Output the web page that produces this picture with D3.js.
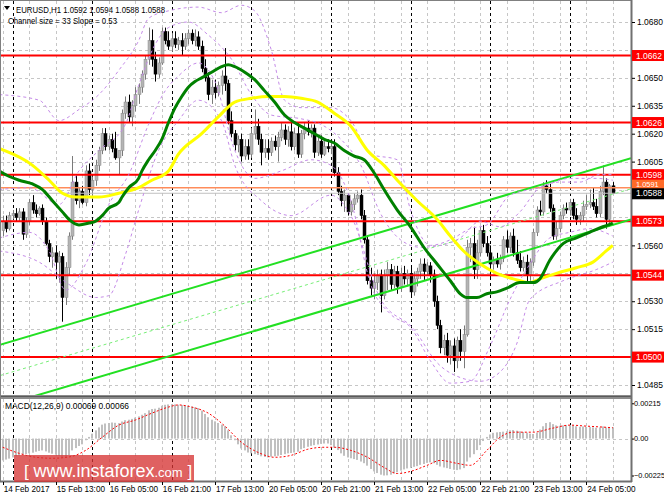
<!DOCTYPE html>
<html><head><meta charset="utf-8">
<script src="https://cdn.jsdelivr.net/npm/d3@7/dist/d3.min.js"></script>
<style>body{margin:0;background:#fff}svg{display:block}text{font-family:"Liberation Sans",Arial,sans-serif}</style>
</head><body>
<svg id="c" width="664" height="498"></svg>
<script>
// ---------- DATA ----------
const tickLabels = ["14 Feb 2017","15 Feb 13:00","16 Feb 05:00","16 Feb 21:00","17 Feb 13:00","20 Feb 05:00","20 Feb 21:00","21 Feb 13:00","22 Feb 05:00","22 Feb 21:00","23 Feb 13:00","24 Feb 05:00"];
const tickBars = [0,16,32,48,64,80,96,112,128,144,160,176];
const dayBars = [3,27,51,75,99,123,147,171];
const priceTicks = [1.0485,1.0500,1.0515,1.0530,1.0545,1.0560,1.0575,1.0590,1.0605,1.0620,1.0635,1.0650,1.0665,1.0680];
const levels = [1.0662,1.0626,1.0598,1.0573,1.0544,1.0500];
const askPrice = 1.0591, bidPrice = 1.0588;
const macdTicks = [0.00215, 0.00, -0.00225];

const open = [1.0568,1.0573,1.0569,1.0576,1.0577,1.0575,1.0578,1.0566,1.0573,1.0583,
1.0579,1.0577,1.0580,1.0573,1.0561,1.0554,1.0556,1.0551,1.0554,1.0532,
1.0548,1.0565,1.0594,1.0584,1.0589,1.0583,1.0600,1.0590,1.0595,1.0603,
1.0611,1.0620,1.0613,1.0617,1.0612,1.0607,1.0611,1.0631,1.0637,1.0629,
1.0635,1.0641,1.0645,1.0652,1.0660,1.0670,1.0660,1.0652,1.0658,1.0675,
1.0670,1.0667,1.0671,1.0668,1.0670,1.0667,1.0671,1.0674,1.0670,1.0672,
1.0667,1.0655,1.0650,1.0641,1.0645,1.0642,1.0646,1.0651,1.0647,1.0627,
1.0620,1.0614,1.0617,1.0608,1.0613,1.0609,1.0620,1.0624,1.0617,1.0610,
1.0612,1.0610,1.0616,1.0613,1.0618,1.0622,1.0617,1.0621,1.0613,1.0620,
1.0609,1.0620,1.0623,1.0621,1.0623,1.0610,1.0616,1.0609,1.0613,1.0612,
1.0613,1.0599,1.0589,1.0584,1.0587,1.0578,1.0582,1.0585,1.0587,1.0576,
1.0563,1.0541,1.0537,1.0540,1.0544,1.0533,1.0544,1.0547,1.0539,1.0546,
1.0538,1.0545,1.0542,1.0545,1.0535,1.0542,1.0546,1.0550,1.0546,1.0549,
1.0544,1.0530,1.0517,1.0505,1.0509,1.0501,1.0506,1.0498,1.0509,1.0503,
1.0512,1.0559,1.0561,1.0547,1.0556,1.0568,1.0561,1.0556,1.0550,1.0552,
1.0550,1.0553,1.0563,1.0559,1.0565,1.0556,1.0552,1.0548,1.0551,1.0544,
1.0551,1.0567,1.0579,1.0578,1.0592,1.0590,1.0580,1.0565,1.0569,1.0576,
1.0580,1.0579,1.0583,1.0576,1.0574,1.0576,1.0581,1.0582,1.0583,1.0581,
1.0577,1.0589,1.0594,1.0574,1.0592];
const high = [1.0576,1.0576,1.0578,1.0579,1.0580,1.0580,1.0580,1.0575,1.0585,1.0587,
1.0582,1.0581,1.0582,1.0575,1.0563,1.0559,1.0560,1.0557,1.0556,1.0551,
1.0567,1.0608,1.0598,1.0591,1.0592,1.0603,1.0604,1.0597,1.0606,1.0613,
1.0623,1.0623,1.0619,1.0620,1.0621,1.0611,1.0633,1.0640,1.0641,1.0638,
1.0645,1.0647,1.0654,1.0662,1.0677,1.0676,1.0664,1.0661,1.0677,1.0677,
1.0675,1.0674,1.0675,1.0672,1.0674,1.0674,1.0676,1.0676,1.0676,1.0675,
1.0670,1.0660,1.0653,1.0649,1.0649,1.0648,1.0654,1.0666,1.0649,1.0632,
1.0622,1.0619,1.0620,1.0617,1.0617,1.0623,1.0633,1.0628,1.0620,1.0617,
1.0617,1.0618,1.0619,1.0621,1.0626,1.0625,1.0624,1.0627,1.0623,1.0626,
1.0622,1.0626,1.0627,1.0625,1.0625,1.0618,1.0619,1.0616,1.0617,1.0616,
1.0617,1.0602,1.0592,1.0590,1.0588,1.0584,1.0588,1.0589,1.0590,1.0579,
1.0565,1.0548,1.0545,1.0547,1.0547,1.0547,1.0551,1.0550,1.0549,1.0549,
1.0548,1.0549,1.0547,1.0548,1.0546,1.0548,1.0553,1.0553,1.0551,1.0551,
1.0547,1.0533,1.0520,1.0512,1.0513,1.0509,1.0510,1.0511,1.0515,1.0517,
1.0563,1.0564,1.0570,1.0563,1.0570,1.0571,1.0565,1.0560,1.0554,1.0556,
1.0555,1.0565,1.0568,1.0567,1.0569,1.0563,1.0557,1.0554,1.0555,1.0553,
1.0569,1.0581,1.0584,1.0594,1.0595,1.0593,1.0582,1.0573,1.0578,1.0582,
1.0583,1.0585,1.0585,1.0580,1.0578,1.0584,1.0587,1.0590,1.0591,1.0585,
1.0592,1.0603,1.0596,1.0593,1.0594];
const low = [1.0565,1.0567,1.0568,1.0574,1.0573,1.0573,1.0563,1.0564,1.0571,1.0577,
1.0575,1.0576,1.0571,1.0560,1.0551,1.0548,1.0542,1.0540,1.0519,1.0528,
1.0544,1.0563,1.0582,1.0580,1.0582,1.0581,1.0587,1.0585,1.0592,1.0600,
1.0609,1.0611,1.0611,1.0610,1.0606,1.0598,1.0608,1.0628,1.0626,1.0624,
1.0632,1.0636,1.0642,1.0649,1.0657,1.0656,1.0648,1.0650,1.0657,1.0668,
1.0665,1.0664,1.0666,1.0665,1.0662,1.0665,1.0668,1.0668,1.0667,1.0665,
1.0653,1.0648,1.0638,1.0636,1.0639,1.0640,1.0641,1.0643,1.0625,1.0618,
1.0611,1.0610,1.0605,1.0606,1.0606,1.0607,1.0617,1.0614,1.0603,1.0607,
1.0606,1.0608,1.0611,1.0605,1.0616,1.0614,1.0613,1.0611,1.0611,1.0607,
1.0607,1.0617,1.0619,1.0618,1.0607,1.0608,1.0607,1.0608,1.0610,1.0609,
1.0597,1.0587,1.0581,1.0578,1.0576,1.0576,1.0579,1.0583,1.0574,1.0561,
1.0539,1.0533,1.0531,1.0536,1.0524,1.0531,1.0536,1.0536,1.0537,1.0534,
1.0535,1.0539,1.0538,1.0532,1.0533,1.0538,1.0542,1.0541,1.0544,1.0540,
1.0527,1.0515,1.0502,1.0501,1.0497,1.0496,1.0492,1.0494,1.0498,1.0494,
1.0511,1.0551,1.0542,1.0542,1.0554,1.0559,1.0554,1.0542,1.0547,1.0548,
1.0547,1.0551,1.0556,1.0556,1.0554,1.0550,1.0546,1.0546,1.0540,1.0541,
1.0549,1.0565,1.0576,1.0576,1.0588,1.0578,1.0563,1.0563,1.0567,1.0574,
1.0577,1.0576,1.0574,1.0571,1.0571,1.0573,1.0579,1.0580,1.0579,1.0575,
1.0575,1.0587,1.0569,1.0570,1.0588];
const close = [1.0573,1.0569,1.0576,1.0577,1.0575,1.0578,1.0566,1.0573,1.0583,1.0579,
1.0577,1.0580,1.0573,1.0561,1.0554,1.0556,1.0551,1.0554,1.0532,1.0548,
1.0565,1.0594,1.0584,1.0589,1.0583,1.0600,1.0590,1.0595,1.0603,1.0611,
1.0620,1.0613,1.0617,1.0612,1.0607,1.0611,1.0631,1.0637,1.0629,1.0635,
1.0641,1.0645,1.0652,1.0660,1.0670,1.0660,1.0652,1.0658,1.0675,1.0670,
1.0667,1.0671,1.0668,1.0670,1.0667,1.0671,1.0674,1.0670,1.0672,1.0667,
1.0655,1.0650,1.0641,1.0645,1.0642,1.0646,1.0651,1.0647,1.0627,1.0620,
1.0614,1.0617,1.0608,1.0613,1.0609,1.0620,1.0624,1.0617,1.0610,1.0612,
1.0610,1.0616,1.0613,1.0618,1.0622,1.0617,1.0621,1.0613,1.0620,1.0609,
1.0620,1.0623,1.0621,1.0623,1.0610,1.0616,1.0609,1.0613,1.0612,1.0613,
1.0599,1.0589,1.0584,1.0587,1.0578,1.0582,1.0585,1.0587,1.0576,1.0563,
1.0541,1.0537,1.0540,1.0544,1.0533,1.0544,1.0547,1.0539,1.0546,1.0538,
1.0545,1.0542,1.0545,1.0535,1.0542,1.0546,1.0550,1.0546,1.0549,1.0544,
1.0530,1.0517,1.0505,1.0509,1.0501,1.0506,1.0498,1.0509,1.0503,1.0512,
1.0559,1.0561,1.0547,1.0556,1.0568,1.0561,1.0556,1.0550,1.0552,1.0550,
1.0553,1.0563,1.0559,1.0565,1.0556,1.0552,1.0548,1.0551,1.0544,1.0551,
1.0567,1.0579,1.0578,1.0592,1.0590,1.0580,1.0565,1.0569,1.0576,1.0580,
1.0579,1.0583,1.0576,1.0574,1.0576,1.0581,1.0582,1.0583,1.0581,1.0577,
1.0589,1.0594,1.0574,1.0592,1.0588];

// moving averages: [bar, price]
const maGreen = [[-1,1.0600],[2,1.0597],[5,1.0595],[9,1.0593],[12,1.0590],[15,1.0584],[18,1.0578],[20,1.0574],[23,1.0571],[26,1.0572],[28,1.0573],[30,1.0576],[32,1.0580],[35,1.0583],[36,1.0586],[38,1.0591],[41,1.0596],[42,1.0600],[44,1.0606],[46,1.0611],[48,1.0617],[50,1.0626],[52,1.0634],[54,1.0640],[56,1.0645],[58,1.0648],[60,1.0650],[63,1.0653],[66,1.0656],[68,1.0657],[70,1.0656],[73,1.0653],[76,1.0649],[79,1.0643],[82,1.0637],[85,1.0630],[88,1.0626],[91,1.0623],[94,1.0620],[97,1.0617],[100,1.0615],[103,1.0611],[106,1.0608],[109,1.0606],[112,1.0599],[115,1.0590],[119,1.0579],[123,1.0570],[127,1.0559],[131,1.0550],[135,1.0541],[138,1.0534],[140,1.0532],[143,1.0532],[146,1.0534],[149,1.0535],[152,1.0537],[156,1.0540],[160,1.0540],[162,1.0542],[165,1.0552],[169,1.0561],[173,1.0564],[177,1.0567],[181,1.0570],[184,1.0572]];
const maYellow = [[-1,1.0612],[9,1.0603],[14,1.0595],[18,1.0588],[22,1.0586],[29,1.0586],[35,1.0588],[41,1.0591],[45,1.0595],[50,1.0600],[53,1.0609],[60,1.0620],[65,1.0629],[70,1.0637],[75,1.0639],[80,1.0640],[85,1.0640],[90,1.0639],[95,1.0637],[100,1.0631],[105,1.0624],[110,1.0611],[115,1.0603],[119,1.0595],[125,1.0584],[131,1.0574],[135,1.0565],[139,1.0557],[144,1.0550],[149,1.0545],[154,1.0542],[159,1.0540],[162,1.0542],[167,1.0545],[173,1.0548],[178,1.0551],[182,1.0557],[184,1.0560]];
// envelope bands (purple dashed)
const bandUpOuter = [[-1,1.0641],[11,1.0638],[17,1.0627],[23,1.0633],[29,1.0641],[35,1.0654],[41,1.0670],[44,1.0682],[50,1.0686],[59,1.0688],[66,1.0685],[72,1.0689],[76,1.0686],[81,1.0665],[85,1.0638],[90,1.0634],[99,1.0634],[105,1.0627],[111,1.0609],[119,1.0606],[123,1.0579],[129,1.0560],[135,1.0563],[141,1.0569],[146,1.0571],[153,1.0587],[162,1.0591],[171,1.0596],[179,1.0596],[184,1.0595]];
const bandLoOuter = [[-1,1.0557],[11,1.0551],[20,1.0539],[28,1.0532],[32,1.0533],[37,1.0555],[41,1.0579],[47,1.0611],[53,1.0627],[59,1.0638],[66,1.0627],[70,1.0603],[78,1.0584],[87,1.0576],[99,1.0587],[105,1.0576],[114,1.0531],[124,1.0515],[131,1.0497],[138,1.0489],[144,1.0487],[150,1.0492],[155,1.0507],[159,1.0531],[169,1.0541],[179,1.0547],[184,1.0551]];
const bandUpInner = [[-1,1.0590],[8,1.0591],[17,1.0582],[23,1.0600],[29,1.0611],[37,1.0625],[41,1.0646],[46,1.0668],[50,1.0677],[56,1.0680],[62,1.0673],[69,1.0660],[75,1.0641],[81,1.0630],[90,1.0628],[96,1.0625],[102,1.0617],[108,1.0603],[114,1.0577],[120,1.0563],[126,1.0559],[132,1.0560],[138,1.0564],[144,1.0573],[150,1.0570],[156,1.0578],[162,1.0591],[168,1.0594],[174,1.0594],[180,1.0598],[184,1.0598]];
const bandLoInner = [[-1,1.0564],[8,1.0567],[14,1.0557],[19,1.0536],[25,1.0550],[32,1.0582],[38,1.0598],[44,1.0625],[49,1.0643],[53,1.0651],[59,1.0658],[64,1.0648],[70,1.0611],[76,1.0596],[84,1.0600],[93,1.0606],[99,1.0603],[105,1.0584],[111,1.0539],[117,1.0523],[123,1.0516],[129,1.0498],[135,1.0486],[141,1.0487],[147,1.0506],[153,1.0531],[159,1.0550],[165,1.0564],[171,1.0567],[177,1.0569],[184,1.0565]];
// regression channel end points [bar, price]
const chanUpper = [[0,1.0507],[184,1.0604]];
const chanLower = [[0,1.0474],[184,1.0571]];
const chanMid   = [[0,1.04905],[184,1.05875]];

const macdHist = [-0.00133,-0.00128,-0.00122,-0.00115,-0.00108,-0.00102,-0.00098,-0.00094,-0.00090,-0.00086,
-0.00080,-0.00075,-0.00072,-0.00078,-0.00086,-0.00092,-0.00098,-0.00104,-0.00115,-0.00112,
-0.00100,-0.00072,-0.00058,-0.00045,-0.00035,-0.00010,0.00010,0.00030,0.00050,0.00068,
0.00085,0.00092,0.00095,0.00098,0.00096,0.00094,0.00104,0.00112,0.00115,0.00120,
0.00128,0.00135,0.00145,0.00155,0.00172,0.00180,0.00182,0.00188,0.00200,0.00206,
0.00208,0.00210,0.00208,0.00206,0.00204,0.00202,0.00198,0.00195,0.00190,0.00186,
0.00170,0.00150,0.00130,0.00115,0.00105,0.00095,0.00085,0.00075,0.00050,0.00020,
-0.00010,-0.00035,-0.00060,-0.00072,-0.00085,-0.00090,-0.00095,-0.00100,-0.00108,-0.00112,
-0.00115,-0.00110,-0.00108,-0.00105,-0.00100,-0.00095,-0.00090,-0.00088,-0.00085,-0.00080,
-0.00065,-0.00058,-0.00050,-0.00044,-0.00040,-0.00036,-0.00032,-0.00030,-0.00030,-0.00040,
-0.00055,-0.00070,-0.00090,-0.00105,-0.00115,-0.00120,-0.00125,-0.00130,-0.00140,-0.00150,
-0.00165,-0.00185,-0.00200,-0.00210,-0.00220,-0.00225,-0.00224,-0.00220,-0.00212,-0.00205,
-0.00195,-0.00188,-0.00182,-0.00178,-0.00172,-0.00168,-0.00160,-0.00155,-0.00148,-0.00145,
-0.00150,-0.00160,-0.00170,-0.00176,-0.00180,-0.00185,-0.00190,-0.00192,-0.00188,-0.00180,
-0.00140,-0.00115,-0.00095,-0.00070,-0.00040,-0.00015,0.00010,0.00025,0.00035,0.00038,
0.00040,0.00042,0.00045,0.00050,0.00052,0.00048,0.00044,0.00040,0.00036,0.00030,
0.00028,0.00035,0.00055,0.00075,0.00095,0.00100,0.00088,0.00080,0.00078,0.00080,
0.00082,0.00083,0.00080,0.00075,0.00072,0.00074,0.00072,0.00070,0.00068,0.00066,
0.00068,0.00074,0.00068,0.00070,0.00069];
const macdSignal = [[0,-0.00053],[5,-0.00090],[10,-0.00114],[15,-0.00120],[20,-0.00112],[25,-0.00072],[30,0.00008],[35,0.00082],[40,0.00113],[45,0.00155],[50,0.00192],[53,0.00205],[57,0.00192],[62,0.00155],[67,0.00076],[72,-0.00023],[77,-0.00084],[82,-0.00114],[87,-0.00102],[92,-0.00065],[97,-0.00053],[100,-0.00053],[105,-0.00072],[110,-0.00114],[115,-0.00176],[119,-0.00213],[123,-0.00200],[128,-0.00163],[132,-0.00133],[137,-0.00151],[141,-0.00163],[146,-0.00072],[150,0.00008],[154,0.00039],[160,0.00039],[166,0.00064],[171,0.00082],[176,0.00076],[181,0.00070],[184,0.00066]];

// ---------- DRAW ----------
const svg = d3.select('#c');
const defs = svg.append('defs');
defs.append('clipPath').attr('id','cm').append('rect').attr('x',1).attr('y',1).attr('width',630).attr('height',394);
defs.append('clipPath').attr('id','cd').append('rect').attr('x',1).attr('y',399).attr('width',630).attr('height',82);

const x = d3.scaleLinear().domain([0,184]).range([2.7,612.8]);
const y = d3.scaleLinear().domain([1.0485,1.0680]).range([385,22]);
const ym = d3.scaleLinear().domain([-0.00225,0.00215]).range([475.5,403.3]);

const main = svg.append('g').attr('clip-path','url(#cm)');
const sub = svg.append('g').attr('clip-path','url(#cd)');

// grid
const gridBars = d3.range(0,185,8);
[main, sub].forEach((g,k)=>{
  g.selectAll('line.vg').data(gridBars).join('line').attr('class','vg')
    .attr('x1',d=>Math.round(x(d))+0.5).attr('x2',d=>Math.round(x(d))+0.5)
    .attr('y1',k?399:1).attr('y2',k?481:396)
    .attr('stroke','#c6c6c6').attr('stroke-dasharray','3,3');
});
main.selectAll('line.hg').data(priceTicks).join('line').attr('class','hg')
  .attr('x1',1).attr('x2',631).attr('y1',d=>Math.round(y(d))+0.5).attr('y2',d=>Math.round(y(d))+0.5)
  .attr('stroke','#c6c6c6').attr('stroke-dasharray','3,3');
sub.append('line').attr('x1',1).attr('x2',631).attr('y1',Math.round(ym(0))+0.5).attr('y2',Math.round(ym(0))+0.5)
  .attr('stroke','#c6c6c6').attr('stroke-dasharray','3,3');
// day separators
[main, sub].forEach((g,k)=>{
  g.selectAll('line.ds').data(dayBars).join('line').attr('class','ds')
    .attr('x1',d=>Math.round(x(d))+0.5).attr('x2',d=>Math.round(x(d))+0.5)
    .attr('y1',k?399:1).attr('y2',k?481:396)
    .attr('stroke','#000').attr('stroke-dasharray','3,3');
});

// candles
const idx = d3.range(close.length);
const cg = main.append('g');
cg.selectAll('line.w').data(idx).join('line')
  .attr('x1',i=>Math.round(x(i))+0.5).attr('x2',i=>Math.round(x(i))+0.5)
  .attr('y1',i=>y(high[i])).attr('y2',i=>y(low[i]))
  .attr('stroke',i=>close[i]>=open[i]?'#7a7a7a':'#000').attr('stroke-width',1);
cg.selectAll('rect.b').data(idx).join('rect')
  .attr('x',i=>Math.round(x(i))-1).attr('width',3)
  .attr('y',i=>y(Math.max(open[i],close[i])))
  .attr('height',i=>Math.max(1,Math.abs(y(open[i])-y(close[i]))))
  .attr('fill',i=>close[i]>=open[i]?'#b4b4b4':'#000')
  .attr('stroke',i=>close[i]>=open[i]?'#8a8a8a':'#000').attr('stroke-width',0.5);

// horizontal levels
main.selectAll('line.lv').data(levels).join('line')
  .attr('x1',1).attr('x2',631).attr('y1',d=>y(d)).attr('y2',d=>y(d))
  .attr('stroke','#ff0000').attr('stroke-width',2);
main.append('line').attr('x1',1).attr('x2',631).attr('y1',y(askPrice)).attr('y2',y(askPrice))
  .attr('stroke','#ff8c5a').attr('stroke-width',1.5);
main.append('line').attr('x1',1).attr('x2',631).attr('y1',y(bidPrice)).attr('y2',y(bidPrice))
  .attr('stroke','#c0c0c0').attr('stroke-width',1);

// regression channel (extended across the panel)
function ext(seg){
  const [a,b]=seg; const s=(b[1]-a[1])/(b[0]-a[0]);
  const i0=x.invert(0), i1=x.invert(631);
  return [[i0,a[1]+s*(i0-a[0])],[i1,a[1]+s*(i1-a[0])]];
}
const lin = d3.line().x(d=>x(d[0])).y(d=>y(d[1]));
main.append('path').attr('d',lin(ext(chanMid))).attr('fill','none').attr('stroke','#77ee77').attr('stroke-width',1).attr('stroke-dasharray','3,3');
[chanUpper,chanLower].forEach(c=>main.append('path').attr('d',lin(ext(c))).attr('fill','none').attr('stroke','#22e022').attr('stroke-width',2));

// bands
const cur = d3.line().x(d=>x(d[0])).y(d=>y(d[1])).curve(d3.curveMonotoneX);
[bandUpOuter,bandLoOuter,bandUpInner,bandLoInner].forEach(b=>
  main.append('path').attr('d',cur(b)).attr('fill','none').attr('stroke','#c58be8').attr('stroke-width',1).attr('stroke-dasharray','3,3'));
// MAs
main.append('path').attr('d',cur(maYellow)).attr('fill','none').attr('stroke','#ffff00').attr('stroke-width',3);
main.append('path').attr('d',cur(maGreen)).attr('fill','none').attr('stroke','#008000').attr('stroke-width',3);

// MACD
sub.selectAll('rect.h').data(idx).join('rect')
  .attr('x',i=>Math.round(x(i))-1).attr('width',2)
  .attr('y',i=>Math.min(ym(0),ym(macdHist[i])))
  .attr('height',i=>Math.abs(ym(macdHist[i])-ym(0)))
  .attr('fill','#c0c0c0');
sub.append('path').attr('d',d3.line().x(d=>x(d[0])).y(d=>ym(d[1])).curve(d3.curveMonotoneX)(macdSignal))
  .attr('fill','none').attr('stroke','#ff0000').attr('stroke-width',1).attr('stroke-dasharray','2,2');

// frames
svg.append('rect').attr('x',0.5).attr('y',0.5).attr('width',631).attr('height',481).attr('fill','none').attr('stroke','#808080');
svg.append('rect').attr('x',1).attr('y',395).attr('width',630).attr('height',4).attr('fill','#8c8c8c');
svg.append('line').attr('x1',1).attr('x2',631).attr('y1',396.5).attr('y2',396.5).attr('stroke','#5a5a5a');
svg.append('line').attr('x1',631.5).attr('x2',631.5).attr('y1',0).attr('y2',482).attr('stroke','#707070').attr('stroke-width',2);
svg.append('line').attr('x1',0).attr('x2',632).attr('y1',481.5).attr('y2',481.5).attr('stroke','#707070').attr('stroke-width',2);

// right price axis (labels hidden behind price tags are not drawn)
const tagPrices = levels.concat([askPrice,bidPrice]);
const visibleTicks = priceTicks.filter(t=>tagPrices.every(p=>Math.abs(y(p)-y(t))>10.5));
const ax = svg.append('g').attr('transform','translate(632,0)')
  .call(d3.axisRight(y).tickValues(visibleTicks).tickFormat(d3.format('.4f')).tickSize(3).tickPadding(2));
ax.select('.domain').remove();
ax.selectAll('text').attr('font-size',8.5).attr('fill','#000').attr('font-family','"Liberation Sans",Arial,sans-serif');
ax.selectAll('line').attr('stroke','#000');
// MACD axis
const ax2 = svg.append('g').attr('transform','translate(632,0)')
  .call(d3.axisRight(ym).tickValues(macdTicks).tickFormat(d=>d===0?'0.00':d3.format('.5f')(d)).tickSize(2).tickPadding(0));
ax2.select('.domain').remove();
ax2.selectAll('text').attr('font-size',7.4).attr('fill','#000').attr('font-family','"Liberation Sans",Arial,sans-serif');
ax2.selectAll('line').attr('stroke','#000');

// price labels
function tag(p,fill,top,h,base,fs){
  const yy=y(p);
  svg.append('rect').attr('x',632).attr('y',yy+top).attr('width',32).attr('height',h).attr('fill',fill);
  svg.append('text').attr('x',636).attr('y',yy+base).attr('font-size',fs).attr('fill','#fff').text(d3.format('.4f')(p));
}
levels.forEach(l=>tag(l,'#ff0000',-5.5,11,3,8.5));
tag(askPrice,'#ff6a28',-8,11,-0.8,7.4);
tag(bidPrice,'#000',-5,11,3.2,8.5);

// bottom time axis
const bx = svg.append('g').attr('transform','translate(0,482)');
bx.selectAll('line').data(tickBars).join('line')
  .attr('x1',d=>Math.round(x(d))+0.5).attr('x2',d=>Math.round(x(d))+0.5).attr('y1',0).attr('y2',3).attr('stroke','#000');
bx.selectAll('text').data(tickBars).join('text')
  .attr('x',d=>x(d)+1).attr('y',10).attr('font-size',8.2).attr('fill','#000').text((d,i)=>tickLabels[i]);

// header texts
svg.append('path').attr('d','M4,6 L10,6 L7,10 Z').attr('fill','#000');
svg.append('text').attr('x',16).attr('y',13).attr('font-size',8.5).attr('textLength',149).attr('lengthAdjust','spacingAndGlyphs').text('EURUSD,H1  1.0592 1.0594 1.0588 1.0588');
svg.append('text').attr('x',8).attr('y',24).attr('font-size',8.5).attr('textLength',109).attr('lengthAdjust','spacingAndGlyphs').text('Channel size = 33 Slope = 0.53');
svg.append('text').attr('x',5).attr('y',409).attr('font-size',8.5).attr('textLength',124).attr('lengthAdjust','spacingAndGlyphs').text('MACD(12,26,9) 0.00069 0.00066');

// watermark
svg.append('rect').attr('x',14).attr('y',455).attr('width',180).attr('height',27).attr('fill','rgba(214,52,52,0.78)');
const wm = svg.append('text').attr('x',24).attr('y',477).attr('fill','#fff');
wm.append('tspan').attr('font-size',17).text('[ ');
wm.append('tspan').attr('font-size',18).text('www.instaforex');
wm.append('tspan').attr('font-size',13).text('.com');
wm.append('tspan').attr('font-size',17).text(' ]');
</script>
</body></html>
